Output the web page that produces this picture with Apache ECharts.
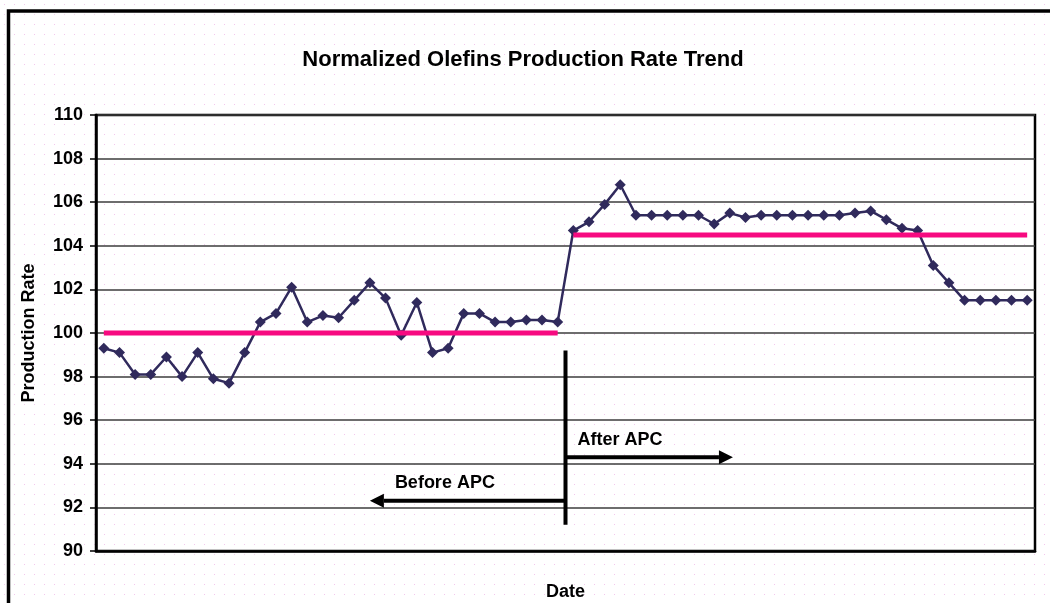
<!DOCTYPE html>
<html>
<head>
<meta charset="utf-8">
<script src="https://cdn.jsdelivr.net/npm/echarts@6/dist/echarts.min.js"></script>
<style>
  html, body { margin: 0; padding: 0; background: #fff; }
  #chart { width: 1050px; height: 603px; }
</style>
</head>
<body>
<div id="chart"></div>
<script>
// Normalized production rate, one reading per date
const productionRate = [
  99.3, 99.1, 98.1, 98.1, 98.9, 98.0, 99.1, 97.9, 97.7, 99.1,
  100.5, 100.9, 102.1, 100.5, 100.8, 100.7, 101.5, 102.3, 101.6, 99.9,
  101.4, 99.1, 99.3, 100.9, 100.9, 100.5, 100.5, 100.6, 100.6, 100.5,
  104.7, 105.1, 105.9, 106.8, 105.4, 105.4, 105.4, 105.4, 105.4, 105.0,
  105.5, 105.3, 105.4, 105.4, 105.4, 105.4, 105.4, 105.4, 105.5, 105.6,
  105.2, 104.8, 104.7, 103.1, 102.3, 101.5, 101.5, 101.5, 101.5, 101.5
];

// Date slots along the x axis (labels are not shown)
const dates = productionRate.map((_, i) => 'D' + (i + 1));

// Period averages: before APC (first 30 dates) and after APC (last 30 dates)
const averages = [
  { first: 0, last: 29, value: 100.0 },
  { first: 30, last: 59, value: 104.5 }
];

// Y axis ticks
const yMin = 90, yMax = 110, yStep = 2;

// Annotation anchors in data units (x = date index, y = production rate)
const switchLine = { x: 29.5, yTop: 99.2, yBottom: 91.2 };
const afterArrow = { label: 'After APC', xFrom: 29.5, xTo: 40.2, y: 94.3, labelY: 95.1 };
const beforeArrow = { label: 'Before APC', xFrom: 29.5, xTo: 17.0, y: 92.3, labelY: 93.1 };

function averageSeries(seg) {
  return productionRate.map((_, i) => (i >= seg.first && i <= seg.last) ? seg.value : null);
}

// faint dotted paper background
const dotCanvas = document.createElement('canvas');
dotCanvas.width = 10; dotCanvas.height = 10;
const dctx = dotCanvas.getContext('2d');
dctx.fillStyle = '#f4c4ee';
dctx.fillRect(4, 4, 1, 1);

const FONT = 'Liberation Sans, Arial, Helvetica, sans-serif';
const chart = echarts.init(document.getElementById('chart'), null, { renderer: 'canvas' });

const option = {
  animation: false,
  backgroundColor: { image: dotCanvas, repeat: 'repeat' },
  title: {
    text: 'Normalized Olefins Production Rate Trend',
    left: 518, top: 44, textAlign: 'center',
    textStyle: { fontFamily: FONT, fontSize: 22, fontWeight: 'bold', color: '#000' }
  },
  grid: {
    left: 96, right: 15, top: 115, bottom: 52,
    outerBoundsMode: 'none',
    containLabel: false,
    show: true, borderColor: '#000', borderWidth: 2.5, backgroundColor: 'transparent'
  },
  xAxis: {
    type: 'category',
    data: dates,
    boundaryGap: true,
    name: 'Date',
    nameLocation: 'middle',
    nameGap: 32,
    nameTextStyle: { fontFamily: FONT, fontSize: 18, fontWeight: 'bold', color: '#000' },
    axisLine: { lineStyle: { color: '#000', width: 2.5 } },
    axisTick: { show: false },
    axisLabel: { show: false },
    splitLine: { show: false }
  },
  yAxis: {
    type: 'value',
    min: yMin, max: yMax, interval: yStep,
    name: 'Production Rate',
    nameLocation: 'middle',
    nameGap: 58,
    nameRotate: 90,
    nameTextStyle: { fontFamily: FONT, fontSize: 18, fontWeight: 'bold', color: '#000' },
    axisLine: { show: true, lineStyle: { color: '#000', width: 2.5 } },
    axisTick: { show: true, length: 6, lineStyle: { color: '#000', width: 1.5 } },
    axisLabel: { fontFamily: FONT, fontSize: 18, fontWeight: 'bold', color: '#000', margin: 13 },
    splitLine: { show: true, lineStyle: { color: '#3c3c3c', width: 1.5 } }
  },
  series: [
    {
      name: 'Production Rate',
      type: 'line',
      data: productionRate,
      symbol: 'diamond',
      symbolSize: 11,
      showSymbol: true,
      showAllSymbol: true,
      lineStyle: { color: '#302a5c', width: 2.5 },
      itemStyle: { color: '#302a5c' },
      z: 3
    },
    ...averages.map((seg, k) => ({
      name: 'Average ' + (k + 1),
      type: 'line',
      data: averageSeries(seg),
      symbol: 'none',
      connectNulls: false,
      lineStyle: { color: '#f70a80', width: 5 },
      z: 4
    }))
  ]
};

chart.setOption(option);

// Annotations placed from data coordinates through the chart's own scales;
// fractional date positions are interpolated between neighbouring slots.
function px(x, y) {
  const i0 = Math.floor(x), i1 = Math.min(i0 + 1, dates.length - 1), f = x - i0;
  const a = chart.convertToPixel({ gridIndex: 0 }, [i0, y]);
  const b = chart.convertToPixel({ gridIndex: 0 }, [i1, y]);
  return [a[0] + (b[0] - a[0]) * f, a[1]];
}

function arrow(a) {
  const p0 = px(a.xFrom, a.y), p1 = px(a.xTo, a.y);
  const dir = p1[0] > p0[0] ? 1 : -1;
  const headLen = 14, headHalf = 7;
  const tip = p1;
  const baseX = tip[0] - dir * headLen;
  return [
    { type: 'line', shape: { x1: p0[0], y1: p0[1], x2: baseX, y2: p1[1] },
      style: { stroke: '#000', lineWidth: 4 }, z: 10 },
    { type: 'polygon', shape: { points: [[tip[0], tip[1]], [baseX, tip[1] - headHalf], [baseX, tip[1] + headHalf]] },
      style: { fill: '#000' }, z: 10 }
  ];
}

const sTop = px(switchLine.x, switchLine.yTop);
const sBot = px(switchLine.x, switchLine.yBottom);
const aLbl = px(afterArrow.xFrom, afterArrow.labelY);
const bLbl = px(beforeArrow.xTo, beforeArrow.labelY);

chart.setOption({
  graphic: [
    // page frame
    { type: 'rect', shape: { x: 8.5, y: 11, width: 1200, height: 800 },
      style: { fill: 'none', stroke: '#000', lineWidth: 3.5 }, silent: true, z: 20 },
    { type: 'line', shape: { x1: sTop[0], y1: sTop[1], x2: sBot[0], y2: sBot[1] },
      style: { stroke: '#000', lineWidth: 4 }, z: 10 },
    ...arrow(afterArrow),
    ...arrow(beforeArrow),
    { type: 'text', x: aLbl[0] + 12, y: aLbl[1],
      style: { text: afterArrow.label, font: 'bold 18px ' + FONT, fill: '#000', verticalAlign: 'middle' }, z: 10 },
    { type: 'text', x: bLbl[0] + 25, y: bLbl[1],
      style: { text: beforeArrow.label, font: 'bold 18px ' + FONT, fill: '#000', verticalAlign: 'middle' }, z: 10 }
  ]
});
</script>
</body>
</html>
